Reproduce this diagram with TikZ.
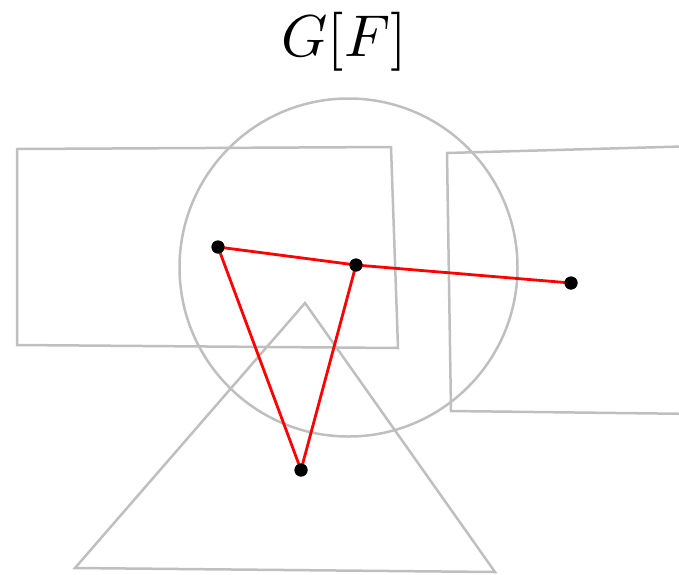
\documentclass[tikz,border=0pt]{standalone}
\begin{document}
\begin{tikzpicture}[x=1pt,y=-1pt,
  shapeline/.style={draw=black!25, line width=2.5pt, line join=miter},
  edgeline/.style={draw=red, line width=2.8pt},
  vtx/.style={circle, fill=black, inner sep=0pt, minimum size=13pt}]
\useasboundingbox (0,0) rectangle (679,574);
\clip (0,0) rectangle (679,574);
\node[scale=5.9, inner sep=0pt] (title) at (344,42) {$G[F]$};
\draw[shapeline] (348.5,267.5) circle (169);
\draw[shapeline] (17,149) -- (391,147) -- (398,348) -- (17,345) -- cycle;
\draw[shapeline] (700,146) -- (447,153) -- (451,411) -- (700,414);
\draw[shapeline] (305,303) -- (75,568) -- (495,572) -- cycle;
\node[vtx] (a) at (218,247) {};
\node[vtx] (b) at (356,265) {};
\node[vtx] (c) at (571,283) {};
\node[vtx] (d) at (301,470) {};
\draw[edgeline] (a.center) -- (b.center) -- (c.center);
\draw[edgeline] (a.center) -- (d.center) -- (b.center);
\node[vtx] at (a) {};
\node[vtx] at (b) {};
\node[vtx] at (c) {};
\node[vtx] at (d) {};
\end{tikzpicture}
\end{document}
